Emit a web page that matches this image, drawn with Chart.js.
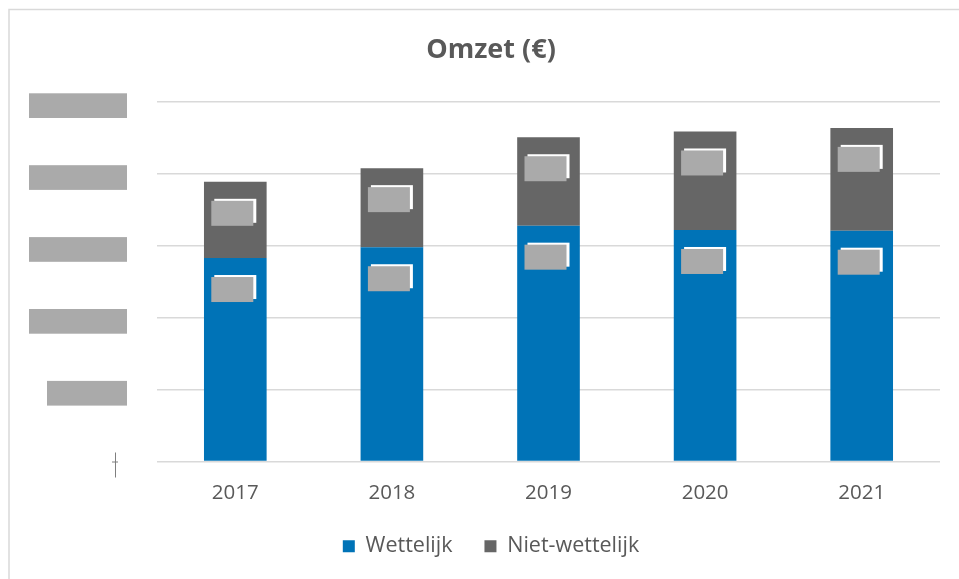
<!DOCTYPE html>
<html>
<head>
<meta charset="utf-8">
<script src="https://cdn.jsdelivr.net/npm/chart.js@4.4.1/dist/chart.umd.min.js"></script>
<style>
  html, body { margin: 0; padding: 0; background: #ffffff; }
  #wrap { width: 959px; height: 579px; position: relative; }
</style>
</head>
<body>
<div id="wrap"><canvas id="c" width="959" height="579"></canvas></div>
<script>
// ---- data (y-axis units are one gridline step) ----
const categories = ['2017', '2018', '2019', '2020', '2021'];
const wettelijk = [2.83, 2.98, 3.28, 3.22, 3.21];
const nietWettelijk = [1.06, 1.10, 1.23, 1.37, 1.43];
const yTickValues = [0, 1, 2, 3, 4, 5];
const seriesNames = ['Wettelijk', 'Niet-wettelijk'];
const chartTitle = 'Omzet (€)';

const BLUE = '#0073b7';
const DARK = '#666666';
const TEXT = '#595959';
const GRID = '#d9d9d9';
const REDACT = '#aaaaaa';

const frame = {
  id: 'frame',
  beforeDraw(chart) {
    const ctx = chart.ctx;
    ctx.save();
    ctx.strokeStyle = GRID;
    ctx.lineWidth = 1.5;
    ctx.beginPath();
    ctx.moveTo(9, 960);
    ctx.lineTo(9, 9.5);
    ctx.lineTo(960, 9.5);
    ctx.stroke();
    ctx.restore();
  }
};

// redacted y tick labels (drawn at the scale's tick positions)
const redactedTicks = {
  id: 'redactedTicks',
  afterDraw(chart) {
    const ctx = chart.ctx;
    const y = chart.scales.y;
    const right = chart.chartArea.left - 30;
    ctx.save();
    yTickValues.forEach(v => {
      const py = y.getPixelForValue(v);
      if (v === 0) {
        ctx.strokeStyle = '#7f7f7f';
        ctx.lineWidth = 1;
        ctx.beginPath();
        ctx.moveTo(right - 11.5, py - 9);
        ctx.lineTo(right - 11.5, py + 16);
        ctx.moveTo(right - 15, py + 0.5);
        ctx.lineTo(right - 9, py + 0.5);
        ctx.stroke();
      } else {
        const w = v === 1 ? 80 : 98;
        ctx.fillStyle = REDACT;
        ctx.fillRect(right - w, py - 8.7, w, 24.7);
      }
    });
    ctx.restore();
  }
};

// redacted data labels (inside end of each segment)
const redactedLabels = {
  id: 'redactedLabels',
  afterDatasetsDraw(chart) {
    const ctx = chart.ctx;
    ctx.save();
    chart.data.datasets.forEach((ds, i) => {
      const meta = chart.getDatasetMeta(i);
      meta.data.forEach(el => {
        const top = Math.min(el.y, el.base);
        ctx.fillStyle = '#ffffff';
        ctx.fillRect(el.x - 21, top + 17, 42, 24);
        ctx.fillStyle = REDACT;
        ctx.fillRect(el.x - 24, top + 19, 42, 25);
      });
    });
    ctx.restore();
  }
};

new Chart(document.getElementById('c'), {
  type: 'bar',
  data: {
    labels: categories,
    datasets: [
      { label: seriesNames[0], data: wettelijk, backgroundColor: BLUE, borderWidth: 0 },
      { label: seriesNames[1], data: nietWettelijk, backgroundColor: DARK, borderWidth: 0 }
    ]
  },
  options: {
    responsive: false,
    animation: false,
    devicePixelRatio: 1,
    layout: { padding: { left: 42, right: 19, top: 24, bottom: 12 } },
    datasets: { bar: { categoryPercentage: 1, barPercentage: 0.4 } },
    scales: {
      x: {
        stacked: true,
        afterFit(s) { s.height = 42; },
        grid: { display: false, drawTicks: false },
        border: { display: false },
        ticks: { color: TEXT, font: { family: 'Open Sans', size: 20.5 }, padding: 19 }
      },
      y: {
        stacked: true,
        min: 0, max: 5,
        afterFit(s) { s.width = 115; },
        ticks: { display: false, stepSize: 1 },
        grid: { color: GRID, lineWidth: 1.5, drawTicks: false },
        border: { display: false }
      }
    },
    plugins: {
      title: {
        display: true, text: chartTitle, color: TEXT,
        font: { family: 'Open Sans', size: 27, weight: 'bold' },
        padding: { top: 10, bottom: 35.6 }
      },
      legend: {
        position: 'bottom',
        labels: {
          color: TEXT, boxWidth: 12, boxHeight: 12, padding: 32,
          font: { family: 'Open Sans', size: 21.5 }
        }
      },
      tooltip: { enabled: false }
    }
  },
  plugins: [frame, redactedTicks, redactedLabels]
});
</script>
</body>
</html>
